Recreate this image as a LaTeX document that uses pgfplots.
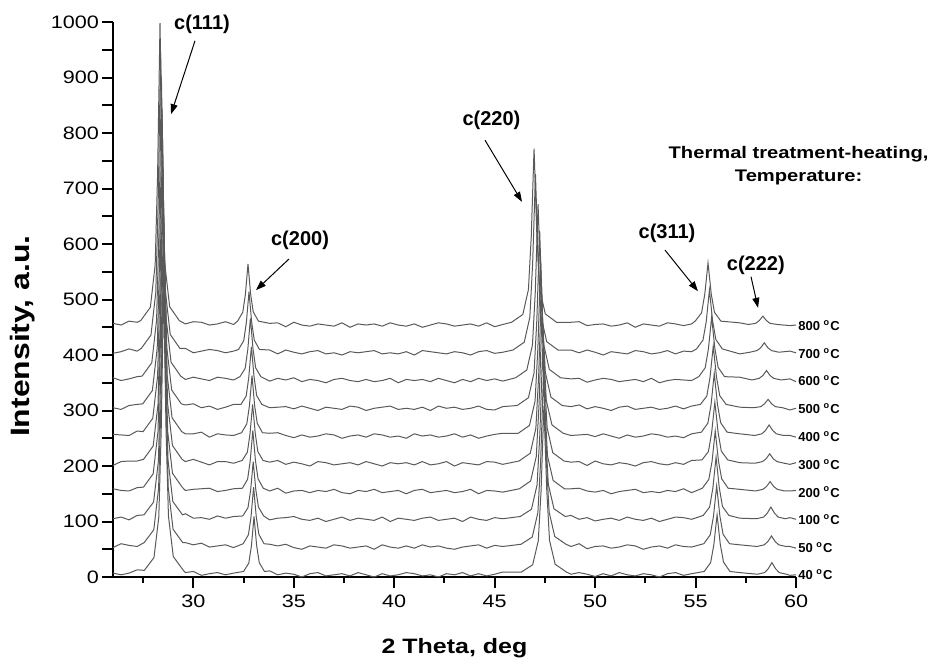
\documentclass[border=0pt]{standalone}
\usepackage{fontspec}
\setmainfont{Liberation Sans}
\newfontfamily\widefont[FakeStretch=1.2]{Liberation Sans}
\usepackage{pgfplots}
\pgfplotsset{compat=1.18}
\usetikzlibrary{arrows.meta}

\tikzset{
  xrd/.style={color=black!65, line width=0.5pt},
  peak/.style={font=\fontsize{10}{12}\selectfont\bfseries},
  arr/.style={-{Triangle[length=5pt,width=3.5pt]}, line width=0.5pt},
  temp/.style={anchor=west, inner sep=0.5pt, xshift=0.5pt, font=\fontsize{6.5}{8}\selectfont\bfseries},
}

\begin{document}
\begin{tikzpicture}
\path[use as bounding box] (-56.5pt,-44.5pt) rectangle (408pt,288.5pt);
\begin{axis}[
  width=341.5pt, height=277.5pt, scale only axis,
  xmin=26, xmax=60, ymin=0, ymax=1000,
  axis x line*=bottom, axis y line*=left,
  axis line style={line width=1pt},
  xtick={30,35,...,60},
  minor xtick={27.5,32.5,...,57.5},
  ytick={0,50,...,1000},
  yticklabels={0,,100,,200,,300,,400,,500,,600,,700,,800,,900,,1000},
  tick align=outside,
  major tick length=5.5pt, minor tick length=3pt,
  tick style={black, line width=1pt},
  tick label style={font=\widefont\fontsize{9}{11}\selectfont},
  yticklabel style={xshift=2pt},
  /pgf/number format/assume math mode=true,
  xlabel={2 Theta, deg},
  ylabel={Intensity, a.u.},
  xlabel style={font=\widefont\fontsize{10.4}{12}\selectfont\bfseries, at={(rel axis cs:0.5,-0.128)}, anchor=center},
  ylabel style={font=\widefont\fontsize{13.3}{15}\selectfont\bfseries, at={(rel axis cs:-0.132,0.434)}, anchor=center},
  clip=false,
]

% 40 C
\addplot[xrd] coordinates {
(26.0,7)(26.4,4)(26.8,7)(27.2,13)
(27.56,12)(28.04,35)(28.28,108)(28.40,264)(28.52,524)(28.64,266)(28.76,110)(29.00,37)(29.48,13)
(29.6,8)(30.0,10)(30.4,3)(30.8,6)(31.2,8)(31.6,4)(32.0,7)
(32.50,10)(32.76,25)(32.89,56)(33.02,109)(33.15,57)(33.28,26)(33.54,10)
(33.8,11)(34.2,4)(34.6,7)(35.0,5)(35.4,0)(35.8,6)(36.2,8)(36.6,2)(37.0,4)(37.4,6)(37.8,2)(38.2,8)(38.6,4)(39.0,0)(39.4,6)(39.8,2)(40.2,4)(40.6,8)(41.0,6)(41.4,2)(41.8,4)(42.2,0)(42.6,6)(43.0,4)(43.4,8)(43.8,2)(44.2,6)(44.6,2)(45.0,5)(45.4,9)
(46.33,9)(46.89,22)(47.17,65)(47.31,156)(47.45,309)(47.59,158)(47.73,66)(48.01,23)(48.57,9)
(48.8,5)(49.2,8)(49.6,5)(50.0,1)(50.4,6)(50.8,2)(51.2,8)(51.6,4)(52.0,2)(52.4,6)(52.8,4)(53.2,0)(53.6,6)(54.0,8)(54.4,3)(54.8,6)
(55.43,10)(55.75,26)(55.91,58)(56.07,112)(56.23,59)(56.39,27)(56.71,10)
(57.2,8)
(58.08,5)(58.44,8)(58.62,15)(58.80,26)(58.98,15)(59.16,8)(59.52,5)
(59.7,3)(60.0,4)
};
% 50 C
\addplot[xrd] coordinates {
(26.0,53)(26.4,60)(26.8,57)(27.2,55)
(27.55,62)(28.03,85)(28.27,160)(28.39,319)(28.51,584)(28.63,321)(28.75,161)(28.99,86)(29.47,62)
(29.6,62)(30.0,58)(30.4,61)(30.8,54)(31.2,56)(31.6,58)(32.0,53)
(32.48,60)(32.74,76)(32.87,108)(33.00,162)(33.13,109)(33.26,77)(33.52,60)
(33.8,59)(34.2,56)(34.6,59)(35.0,53)(35.4,50)(35.8,56)(36.2,54)(36.6,52)(37.0,58)(37.4,56)(37.8,52)(38.2,54)(38.6,56)(39.0,50)(39.4,58)(39.8,54)(40.2,52)(40.6,56)(41.0,52)(41.4,58)(41.8,54)(42.2,56)(42.6,52)(43.0,50)(43.4,54)(43.8,56)(44.2,58)(44.6,52)(45.0,57)(45.4,55)
(46.31,59)(46.87,72)(47.15,116)(47.29,210)(47.43,366)(47.57,212)(47.71,117)(47.99,73)(48.55,59)
(48.8,55)(49.2,60)(49.6,51)(50.0,55)(50.4,56)(50.8,52)(51.2,54)(51.6,58)(52.0,56)(52.4,50)(52.8,54)(53.2,56)(53.6,52)(54.0,58)(54.4,55)(54.8,54)
(55.41,60)(55.73,76)(55.89,109)(56.05,164)(56.21,110)(56.37,77)(56.69,60)
(57.2,58)
(58.06,55)(58.42,58)(58.60,64)(58.78,74)(58.96,64)(59.14,58)(59.50,55)
(59.7,55)(60.0,52)
};
% 100 C
\addplot[xrd] coordinates {
(26.0,105)(26.4,108)(26.8,103)(27.2,111)
(27.54,112)(28.02,135)(28.26,209)(28.38,366)(28.50,629)(28.62,368)(28.74,210)(28.98,136)(29.46,112)
(29.6,114)(30.0,106)(30.4,107)(30.8,104)(31.2,110)(31.6,106)(32.0,109)
(32.46,110)(32.72,125)(32.85,156)(32.98,208)(33.11,157)(33.24,126)(33.50,110)
(33.8,103)(34.2,106)(34.6,107)(35.0,109)(35.4,104)(35.8,102)(36.2,106)(36.6,100)(37.0,104)(37.4,108)(37.8,102)(38.2,106)(38.6,104)(39.0,102)(39.4,108)(39.8,100)(40.2,106)(40.6,104)(41.0,102)(41.4,106)(41.8,108)(42.2,102)(42.6,104)(43.0,106)(43.4,100)(43.8,108)(44.2,104)(44.6,102)(45.0,107)(45.4,105)
(46.27,109)(46.83,122)(47.11,166)(47.25,258)(47.39,412)(47.53,260)(47.67,167)(47.95,123)(48.51,109)
(48.8,111)(49.2,104)(49.6,107)(50.0,101)(50.4,104)(50.8,106)(51.2,102)(51.6,108)(52.0,104)(52.4,102)(52.8,106)(53.2,100)(53.6,104)(54.0,108)(54.4,107)(54.8,104)
(55.38,111)(55.70,126)(55.86,160)(56.02,216)(56.18,161)(56.34,127)(56.66,111)
(57.2,106)
(58.03,105)(58.39,108)(58.57,115)(58.75,126)(58.93,115)(59.11,108)(59.47,105)
(59.7,107)(60.0,104)
};
% 200 C
\addplot[xrd] coordinates {
(26.0,159)(26.4,156)(26.8,155)(27.2,161)
(27.52,162)(28.00,186)(28.24,262)(28.36,423)(28.48,692)(28.60,425)(28.72,263)(28.96,187)(29.44,162)
(29.6,156)(30.0,158)(30.4,159)(30.8,160)(31.2,154)(31.6,156)(32.0,159)
(32.44,160)(32.70,176)(32.83,209)(32.96,264)(33.09,210)(33.22,177)(33.48,160)
(33.8,155)(34.2,160)(34.6,151)(35.0,155)(35.4,156)(35.8,152)(36.2,156)(36.6,154)(37.0,158)(37.4,152)(37.8,150)(38.2,156)(38.6,154)(39.0,158)(39.4,152)(39.8,154)(40.2,156)(40.6,150)(41.0,156)(41.4,158)(41.8,152)(42.2,154)(42.6,156)(43.0,152)(43.4,154)(43.8,158)(44.2,150)(44.6,156)(45.0,155)(45.4,153)
(46.23,159)(46.79,173)(47.07,217)(47.21,312)(47.35,469)(47.49,314)(47.63,218)(47.91,174)(48.47,159)
(48.8,159)(49.2,160)(49.6,155)(50.0,153)(50.4,156)(50.8,150)(51.2,154)(51.6,156)(52.0,158)(52.4,152)(52.8,154)(53.2,152)(53.6,156)(54.0,154)(54.4,159)(54.8,152)
(55.34,160)(55.66,176)(55.82,208)(55.98,263)(56.14,209)(56.30,177)(56.62,160)
(57.2,158)
(57.99,155)(58.35,158)(58.53,163)(58.71,172)(58.89,163)(59.07,158)(59.43,155)
(59.7,155)(60.0,156)
};
% 300 C
\addplot[xrd] coordinates {
(26.0,201)(26.4,208)(26.8,209)(27.2,209)
(27.52,212)(28.00,236)(28.24,311)(28.36,472)(28.48,739)(28.60,474)(28.72,312)(28.96,237)(29.44,212)
(29.6,208)(30.0,212)(30.4,207)(30.8,202)(31.2,208)(31.6,208)(32.0,205)
(32.43,210)(32.69,225)(32.82,258)(32.95,311)(33.08,259)(33.21,226)(33.47,210)
(33.8,207)(34.2,210)(34.6,203)(35.0,207)(35.4,204)(35.8,200)(36.2,208)(36.6,206)(37.0,202)(37.4,204)(37.8,206)(38.2,202)(38.6,208)(39.0,204)(39.4,200)(39.8,206)(40.2,204)(40.6,206)(41.0,202)(41.4,208)(41.8,202)(42.2,204)(42.6,208)(43.0,200)(43.4,206)(43.8,204)(44.2,202)(44.6,208)(45.0,207)(45.4,203)
(46.21,209)(46.77,223)(47.05,268)(47.19,363)(47.33,522)(47.47,365)(47.61,269)(47.89,224)(48.45,209)
(48.8,207)(49.2,208)(49.6,201)(50.0,209)(50.4,204)(50.8,202)(51.2,206)(51.6,204)(52.0,200)(52.4,206)(52.8,208)(53.2,204)(53.6,202)(54.0,206)(54.4,203)(54.8,210)
(55.32,211)(55.64,226)(55.80,260)(55.96,315)(56.12,261)(56.28,227)(56.60,211)
(57.2,206)
(57.97,205)(58.33,208)(58.51,213)(58.69,222)(58.87,213)(59.05,208)(59.41,205)
(59.7,203)(60.0,206)
};
% 400 C
\addplot[xrd] coordinates {
(26.0,257)(26.4,256)(26.8,255)(27.2,263)
(27.50,262)(27.98,286)(28.22,362)(28.34,525)(28.46,796)(28.58,527)(28.70,363)(28.94,287)(29.42,262)
(29.6,258)(30.0,258)(30.4,261)(30.8,252)(31.2,258)(31.6,256)(32.0,255)
(32.40,260)(32.66,276)(32.79,308)(32.92,363)(33.05,309)(33.18,277)(33.44,260)
(33.8,259)(34.2,260)(34.6,255)(35.0,251)(35.4,256)(35.8,252)(36.2,254)(36.6,258)(37.0,256)(37.4,250)(37.8,254)(38.2,256)(38.6,252)(39.0,258)(39.4,256)(39.8,252)(40.2,254)(40.6,250)(41.0,258)(41.4,254)(41.8,256)(42.2,252)(42.6,254)(43.0,258)(43.4,252)(43.8,256)(44.2,250)(44.6,254)(45.0,257)(45.4,259)
(46.17,259)(46.73,273)(47.01,317)(47.15,412)(47.29,570)(47.43,414)(47.57,318)(47.85,274)(48.41,259)
(48.8,255)(49.2,256)(49.6,257)(50.0,253)(50.4,258)(50.8,254)(51.2,250)(51.6,256)(52.0,252)(52.4,254)(52.8,258)(53.2,256)(53.6,252)(54.0,254)(54.4,251)(54.8,258)
(55.29,261)(55.61,277)(55.77,310)(55.93,367)(56.09,311)(56.25,278)(56.57,261)
(57.2,258)
(57.94,255)(58.30,258)(58.48,264)(58.66,274)(58.84,264)(59.02,258)(59.38,255)
(59.7,255)(60.0,252)
};
% 500 C
\addplot[xrd] coordinates {
(26.0,305)(26.4,302)(26.8,309)(27.2,311)
(27.48,312)(27.96,336)(28.20,412)(28.32,574)(28.44,844)(28.56,576)(28.68,413)(28.92,337)(29.40,312)
(29.6,310)(30.0,312)(30.4,305)(30.8,308)(31.2,302)(31.6,306)(32.0,311)
(32.37,311)(32.63,326)(32.76,360)(32.89,415)(33.02,361)(33.15,327)(33.41,311)
(33.8,305)(34.2,306)(34.6,307)(35.0,303)(35.4,308)(35.8,304)(36.2,300)(36.6,306)(37.0,304)(37.4,302)(37.8,308)(38.2,306)(38.6,300)(39.0,304)(39.4,306)(39.8,308)(40.2,302)(40.6,304)(41.0,302)(41.4,306)(41.8,300)(42.2,308)(42.6,304)(43.0,306)(43.4,302)(43.8,304)(44.2,308)(44.6,302)(45.0,301)(45.4,307)
(46.12,309)(46.68,323)(46.96,368)(47.10,464)(47.24,624)(47.38,466)(47.52,369)(47.80,324)(48.36,309)
(48.8,307)(49.2,310)(49.6,303)(50.0,307)(50.4,304)(50.8,300)(51.2,306)(51.6,308)(52.0,302)(52.4,304)(52.8,306)(53.2,302)(53.6,304)(54.0,308)(54.4,303)(54.8,308)
(55.24,311)(55.56,326)(55.72,360)(55.88,416)(56.04,361)(56.20,327)(56.52,311)
(57.2,306)
(57.89,305)(58.25,307)(58.43,312)(58.61,320)(58.79,312)(58.97,307)(59.33,305)
(59.7,301)(60.0,304)
};
% 600 C
\addplot[xrd] coordinates {
(26.0,359)(26.4,354)(26.8,357)(27.2,361)
(27.45,362)(27.93,386)(28.17,463)(28.29,627)(28.41,900)(28.53,629)(28.65,464)(28.89,387)(29.37,362)
(29.6,356)(30.0,360)(30.4,357)(30.8,354)(31.2,360)(31.6,358)(32.0,355)
(32.32,361)(32.58,376)(32.71,410)(32.84,466)(32.97,411)(33.10,377)(33.36,361)
(33.8,353)(34.2,358)(34.6,355)(35.0,359)(35.4,352)(35.8,356)(36.2,354)(36.6,350)(37.0,356)(37.4,358)(37.8,354)(38.2,352)(38.6,356)(39.0,352)(39.4,354)(39.8,358)(40.2,350)(40.6,356)(41.0,354)(41.4,356)(41.8,352)(42.2,358)(42.6,354)(43.0,350)(43.4,356)(43.8,352)(44.2,358)(44.6,354)(45.0,357)(45.4,353)
(46.04,359)(46.60,373)(46.88,418)(47.02,513)(47.16,672)(47.30,515)(47.44,419)(47.72,374)(48.28,359)
(48.8,357)(49.2,358)(49.6,351)(50.0,355)(50.4,358)(50.8,356)(51.2,352)(51.6,354)(52.0,356)(52.4,352)(52.8,358)(53.2,350)(53.6,354)(54.0,356)(54.4,355)(54.8,354)
(55.16,361)(55.48,377)(55.64,411)(55.80,468)(55.96,412)(56.12,378)(56.44,361)
(57.2,360)
(57.81,355)(58.17,358)(58.35,363)(58.53,372)(58.71,363)(58.89,358)(59.25,355)
(59.7,357)(60.0,352)
};
% 700 C
\addplot[xrd] coordinates {
(26.0,403)(26.4,406)(26.8,411)(27.2,407)
(27.41,412)(27.89,436)(28.13,513)(28.25,676)(28.37,948)(28.49,678)(28.61,514)(28.85,437)(29.33,412)
(29.6,412)(30.0,404)(30.4,407)(30.8,410)(31.2,408)(31.6,404)(32.0,407)
(32.25,410)(32.51,426)(32.64,459)(32.77,514)(32.90,460)(33.03,427)(33.29,410)
(33.8,409)(34.2,402)(34.6,409)(35.0,405)(35.4,402)(35.8,406)(36.2,408)(36.6,402)(37.0,404)(37.4,400)(37.8,406)(38.2,404)(38.6,406)(39.0,408)(39.4,402)(39.8,404)(40.2,402)(40.6,406)(41.0,400)(41.4,408)(41.8,406)(42.2,404)(42.6,402)(43.0,406)(43.4,404)(43.8,400)(44.2,406)(44.6,408)(45.0,403)(45.4,405)
(45.91,409)(46.47,423)(46.75,468)(46.89,565)(47.03,726)(47.17,567)(47.31,469)(47.59,424)(48.15,409)
(48.8,409)(49.2,404)(49.6,409)(50.0,405)(50.4,400)(50.8,406)(51.2,404)(51.6,402)(52.0,408)(52.4,406)(52.8,402)(53.2,404)(53.6,408)(54.0,402)(54.4,407)(54.8,406)
(55.05,411)(55.37,427)(55.53,460)(55.69,517)(55.85,461)(56.01,428)(56.33,411)
(57.2,402)
(57.70,405)(58.06,408)(58.24,413)(58.42,422)(58.60,413)(58.78,408)(59.14,405)
(59.7,407)(60.0,404)
};
% 800 C
\addplot[xrd] coordinates {
(26.0,457)(26.4,454)(26.8,461)(27.2,459)
(27.38,462)(27.86,486)(28.10,563)(28.22,726)(28.34,998)(28.46,728)(28.58,564)(28.82,487)(29.30,462)
(29.6,456)(30.0,460)(30.4,459)(30.8,454)(31.2,456)(31.6,460)(32.0,455)
(32.20,461)(32.46,477)(32.59,509)(32.72,564)(32.85,510)(32.98,478)(33.24,461)
(33.8,457)(34.2,458)(34.6,451)(35.0,459)(35.4,454)(35.8,452)(36.2,456)(36.6,454)(37.0,452)(37.4,458)(37.8,450)(38.2,456)(38.6,454)(39.0,456)(39.4,452)(39.8,458)(40.2,454)(40.6,452)(41.0,456)(41.4,450)(41.8,454)(42.2,458)(42.6,456)(43.0,452)(43.4,454)(43.8,456)(44.2,452)(44.6,458)(45.0,451)(45.4,455)
(45.84,459)(46.40,473)(46.68,518)(46.82,613)(46.96,772)(47.10,615)(47.24,519)(47.52,474)(48.08,459)
(48.8,459)(49.2,460)(49.6,453)(50.0,455)(50.4,456)(50.8,452)(51.2,454)(51.6,458)(52.0,450)(52.4,456)(52.8,454)(53.2,452)(53.6,458)(54.0,456)(54.4,453)(54.8,456)
(54.98,461)(55.30,476)(55.46,510)(55.62,566)(55.78,510)(55.94,477)(56.26,461)
(57.2,458)
(57.63,455)(57.99,457)(58.17,462)(58.35,470)(58.53,462)(58.71,457)(59.07,455)
(59.7,453)(60.0,454)
};

% peak labels
\node[peak] at (axis cs:30.43,995) {c(111)};
\draw[arr] (axis cs:30.08,966) -- (axis cs:28.89,834);
\node[peak] at (axis cs:35.31,607) {c(200)};
\draw[arr] (axis cs:34.76,573) -- (axis cs:33.12,517);
\node[peak] at (axis cs:44.84,822) {c(220)};
\draw[arr] (axis cs:44.52,787) -- (axis cs:46.36,676);
\node[peak] at (axis cs:53.58,620) {c(311)};
\draw[arr] (axis cs:53.48,589) -- (axis cs:55.12,515);
\node[peak] at (axis cs:58.0,562) {c(222)};
\draw[arr] (axis cs:57.76,541) -- (axis cs:58.11,485);

\node[font=\widefont\fontsize{8.4}{11.5}\selectfont\bfseries, align=center] at (axis cs:60.13,741)
  {Thermal treatment-heating,\\Temperature:};

% temperature labels
\node[temp] at (axis cs:60,453) {800 \textsuperscript{o}C};
\node[temp] at (axis cs:60,403) {700 \textsuperscript{o}C};
\node[temp] at (axis cs:60,353) {600 \textsuperscript{o}C};
\node[temp] at (axis cs:60,303) {500 \textsuperscript{o}C};
\node[temp] at (axis cs:60,253) {400 \textsuperscript{o}C};
\node[temp] at (axis cs:60,203) {300 \textsuperscript{o}C};
\node[temp] at (axis cs:60,153) {200 \textsuperscript{o}C};
\node[temp] at (axis cs:60,103) {100 \textsuperscript{o}C};
\node[temp] at (axis cs:60,53) {50 \textsuperscript{o}C};
\node[temp] at (axis cs:60,5) {40 \textsuperscript{o}C};
\end{axis}
\end{tikzpicture}
\end{document}
